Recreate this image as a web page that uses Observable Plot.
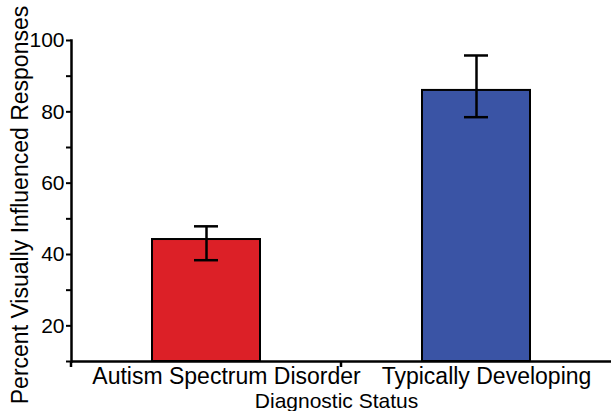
<!DOCTYPE html>
<html>
<head>
<meta charset="utf-8">
<script src="https://cdn.jsdelivr.net/npm/d3@7"></script>
<script src="https://cdn.jsdelivr.net/npm/@observablehq/plot@0.6"></script>
<style>
  html, body { margin: 0; padding: 0; background: #fff; }
</style>
</head>
<body>
<div id="chart"></div>
<script>
const groups = ["Autism Spectrum Disorder", "Typically Developing"];
const means = [44.2, 86.0];
const errLow = [38.4, 78.5];
const errHigh = [47.9, 95.8];
const barColors = ["#dc2027", "#3a54a5"];
const majorTicks = [20, 40, 60, 80, 100];
const minorTicks = [10, 30, 50, 70, 90];
const labelShift = [20, 10];
const yTitle = "Percent Visually Influenced Responses";
const xTitle = "Diagnostic Status";

const data = groups.map((g, i) => ({group: g, mean: means[i], lo: errLow[i], hi: errHigh[i], color: barColors[i]}));

const chart = Plot.plot({
  width: 611,
  height: 411,
  marginLeft: 71,
  marginRight: 0,
  marginTop: 40,
  marginBottom: 50,
  style: {fontFamily: "'Liberation Sans', Arial, sans-serif", color: "black", background: "white"},
  x: {domain: groups, paddingInner: 0.6, paddingOuter: 0.3, axis: null},
  y: {domain: [10, 100], axis: null},
  marks: [
    Plot.barY(data, {x: "group", y1: 10, y2: "mean", fill: "color", stroke: "black", strokeWidth: 2}),
    Plot.ruleX(data, {x: "group", y1: "lo", y2: "hi", stroke: "black", strokeWidth: 2.5}),
    Plot.tickY(data, {x: "group", y: "lo", stroke: "black", strokeWidth: 2.5, insetLeft: 42, insetRight: 42}),
    Plot.tickY(data, {x: "group", y: "hi", stroke: "black", strokeWidth: 2.5, insetLeft: 42, insetRight: 42}),
    Plot.axisY({ticks: majorTicks, tickSize: 5, tickPadding: 2, fontSize: 21, strokeWidth: 2, tickFormat: d => d}),
    Plot.axisY({ticks: minorTicks, tickSize: 5, strokeWidth: 2, tickFormat: () => ""}),
    Plot.ruleY([10], {stroke: "black", strokeWidth: 2.5}),
    Plot.frame({anchor: "left", stroke: "black", strokeWidth: 2.5}),
    Plot.text([data[0]], {x: "group", y: 10, text: "group", lineAnchor: "top", dy: 6, dx: labelShift[0], fontSize: 23}),
    Plot.text([data[1]], {x: "group", y: 10, text: "group", lineAnchor: "top", dy: 6, dx: labelShift[1], fontSize: 23}),
    Plot.text([xTitle], {frameAnchor: "bottom", lineAnchor: "top", dy: 32, dx: -5, fontSize: 21}),
    Plot.text([yTitle], {frameAnchor: "left", textAnchor: "middle", rotate: -90, lineAnchor: "bottom", dx: -44, dy: 4, fontSize: 23})
  ]
});

// small downward ticks on the category axis, derived from the x scale
const xs = chart.scale("x");
const ys = chart.scale("y");
const base = ys.apply(10);
const left = xs.apply(groups[0]) - xs.step * 0.3;
const boundary = xs.apply(groups[0]) + xs.bandwidth + (xs.step - xs.bandwidth) / 2;
const svg = d3.select(chart);
[left, boundary].forEach(px => {
  svg.append("line")
    .attr("x1", px).attr("x2", px)
    .attr("y1", base).attr("y2", base + 6)
    .attr("stroke", "black").attr("stroke-width", 2.5);
});

document.getElementById("chart").appendChild(chart);
</script>
</body>
</html>
